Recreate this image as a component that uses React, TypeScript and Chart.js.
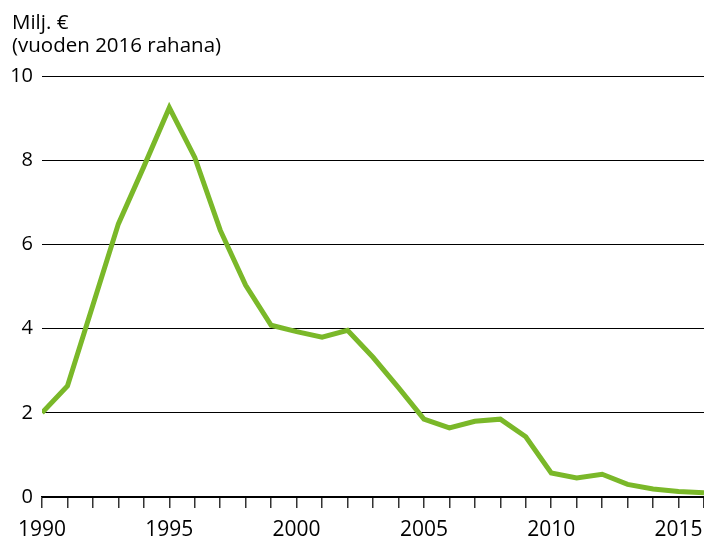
import React, { useEffect, useRef } from "react";
import { Chart, registerables } from "chart.js";

Chart.register(...registerables);

const years: number[] = [1990, 1991, 1992, 1993, 1994, 1995, 1996, 1997, 1998, 1999, 2000, 2001, 2002, 2003, 2004, 2005, 2006, 2007, 2008, 2009, 2010, 2011, 2012, 2013, 2014, 2015, 2016];
const values: number[] = [2.0, 2.64, 4.56, 6.49, 7.85, 9.25, 8.07, 6.34, 5.03, 4.08, 3.93, 3.8, 3.96, 3.32, 2.6, 1.85, 1.64, 1.8, 1.85, 1.43, 0.57, 0.45, 0.54, 0.3, 0.19, 0.13, 0.1];
const yTicks: number[] = [0, 2, 4, 6, 8, 10];
const titleLines: string[] = ["Milj. €", "(vuoden 2016 rahana)"];
const FONT = "'Open Sans', 'Noto Sans', sans-serif";

export default function App() {
  const ref = useRef<HTMLCanvasElement | null>(null);
  useEffect(() => {
    document.body.style.margin = "0";
    const ctx = ref.current!.getContext("2d")!;
    const chart = new Chart(ctx, {
      type: "line",
      data: {
        datasets: [
          {
            data: years.map((y, i) => ({ x: y, y: values[i] })),
            borderColor: "#7ab829",
            borderWidth: 5,
            borderJoinStyle: "miter",
            borderCapStyle: "butt",
            pointRadius: 0,
            tension: 0,
            fill: false,
          },
        ],
      },
      options: {
        animation: false,
        responsive: false,
        devicePixelRatio: 1,
        layout: { padding: { left: 12, right: 0, top: 0, bottom: 0 } },
        plugins: {
          legend: { display: false },
          tooltip: { enabled: false },
          title: {
            display: true,
            text: titleLines,
            align: "start",
            color: "#000",
            font: { family: FONT, size: 20.5, weight: "normal", lineHeight: 1.15 },
            padding: { top: 11, bottom: 18 },
          },
        },
        scales: {
          x: {
            type: "linear",
            min: years[0],
            max: years[years.length - 1],
            border: { display: true, color: "#000", width: 1.5 },
            grid: {
              drawOnChartArea: false,
              drawTicks: true,
              tickLength: 11,
              color: "#333",
              lineWidth: 1.5,
            },
            ticks: {
              stepSize: 1,
              autoSkip: false,
              maxRotation: 0,
              padding: 9,
              color: "#000",
              font: { family: FONT, size: 21 },
              callback: (v: any) => (Number(v) % 5 === 0 ? String(v) : ""),
            },
            afterFit: (scale: any) => {
              scale.height = 40;
              scale.paddingLeft = 0;
              scale.paddingRight = 0;
            },
          },
          y: {
            min: 0,
            max: 10,
            border: { display: false },
            grid: { color: "#000", lineWidth: 1, drawTicks: false },
            afterBuildTicks: (scale: any) => {
              scale.ticks = yTicks.map((v) => ({ value: v }));
            },
            ticks: {
              padding: 9,
              color: "#000",
              font: { family: FONT, size: 20 },
              callback: (v: any) => String(v),
            },
            afterFit: (scale: any) => {
              scale.width = 30;
            },
          },
        },
      },
    });
    return () => chart.destroy();
  }, []);
  return (
    <div style={{ position: "absolute", left: 0, top: 0, width: 704, height: 537 }}>
      <canvas ref={ref} width={704} height={537} style={{ width: 704, height: 537 }} />
    </div>
  );
}
